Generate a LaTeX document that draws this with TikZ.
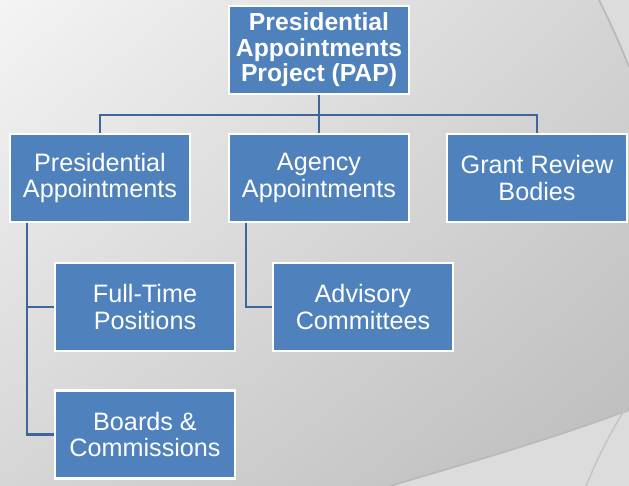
\documentclass[tikz,border=0pt]{standalone}
\usepackage{fontspec}
\setmainfont{Liberation Sans}
\usetikzlibrary{shadings}
\definecolor{boxblue}{RGB}{79,129,189}
\definecolor{connblue}{RGB}{62,102,154}
\definecolor{bgout}{RGB}{220,220,220}
\definecolor{edgegray}{RGB}{186,186,186}
\definecolor{bgul}{RGB}{244,244,244}
\definecolor{bgur}{RGB}{212,212,212}
\definecolor{bgll}{RGB}{214,214,214}
\definecolor{bglr}{RGB}{188,188,188}
\definecolor{arcgray}{RGB}{196,196,196}
\tikzset{
  orgbox/.style={draw=white, line width=2.5pt, fill=boxblue, text=white,
    minimum width=180pt, minimum height=88pt, inner sep=0pt, align=center,
    font=\fontsize{25.2}{26.5}\selectfont},
  conn/.style={draw=connblue, line width=2.6pt}
}
\begin{document}
\begin{tikzpicture}[x=1pt,y=-1pt]
\useasboundingbox (0,0) rectangle (629,486);
% background
\fill[bgout] (0,0) rectangle (629,486);
\shade[upper left=bgul, upper right=bgur, lower left=bgll, lower right=bglr]
  (0,0) -- (599,0) .. controls (610,22) and (620,44) .. (629,67) -- (629,410)
  .. controls (540,443) and (460,465) .. (390,486) -- (0,486) -- cycle;
\draw[edgegray, line width=1.8pt] (599,0) .. controls (610,22) and (620,44) .. (629,67);
\draw[edgegray, line width=1.8pt] (629,410) .. controls (540,443) and (460,465) .. (390,486);
\draw[arcgray, line width=1.5pt] (586,486) .. controls (600,452) and (614,426) .. (629,403);
% boxes
\node[orgbox, font=\fontsize{24.7}{25.5}\selectfont\bfseries] (pap) at (319,50) {Presidential\\Appointments\\Project (PAP)};
\node[orgbox] (pa) at (100,178) {Presidential\\Appointments};
\node[orgbox] (aa) at (319,178) {Agency\\Appointments};
\node[orgbox] (gr) at (537,178) {Grant Review\\Bodies};
\node[orgbox] (ft) at (145,307) {Full-Time\\Positions};
\node[orgbox] (bc) at (145,434.5) {Boards \&\\Commissions};
\node[orgbox] (ac) at (363,307) {Advisory\\Committees};
% connectors
\coordinate (bus) at (319,115);
\draw[conn] (pap.south) -- (aa.north);
\draw[conn] (pa.north) |- (bus) -| (gr.north);
\draw[conn] ([xshift=-73pt]pa.south) |- (ft.west);
\draw[conn] ([xshift=-73pt]pa.south) |- (bc.west);
\draw[conn] ([xshift=-73pt]aa.south) |- (ac.west);
\end{tikzpicture}
\end{document}
